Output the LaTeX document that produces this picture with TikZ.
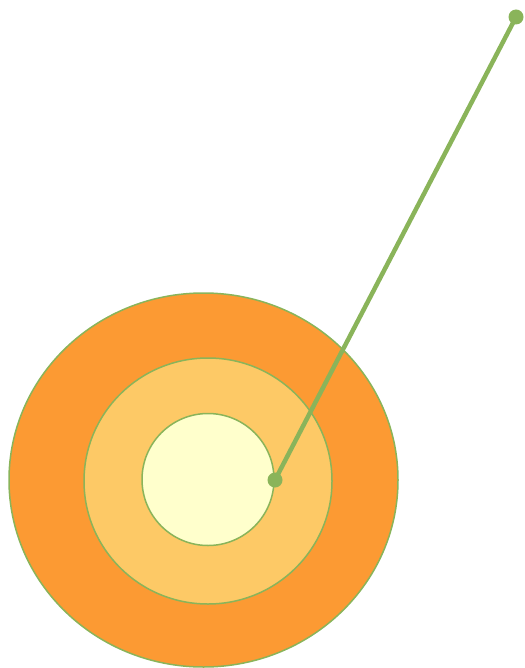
\documentclass[tikz,border=0pt]{standalone}
\begin{document}
\begin{tikzpicture}[x=1pt,y=-1pt,
  ring/.style={draw=ringgreen, line width=1.5pt},
  dotnode/.style={circle, fill=ringgreen, inner sep=0pt, minimum size=15pt}]
\definecolor{ringgreen}{HTML}{8AB45A}
\definecolor{outerc}{HTML}{FC9A33}
\definecolor{midc}{HTML}{FDC966}
\definecolor{innerc}{HTML}{FFFFCC}
\useasboundingbox (0,0) rectangle (524,668);
\draw[ring, fill=outerc] (203.5,480) ellipse [x radius=194.5, y radius=187];
\draw[ring, fill=midc] (208,481) ellipse [x radius=124, y radius=123];
\draw[ring, fill=innerc] (208,479.5) circle [radius=66];
\node[dotnode] (a) at (275,480) {};
\node[dotnode] (b) at (516,17) {};
\draw[ringgreen, line width=4.5pt] (a.center) -- (b.center);
\end{tikzpicture}
\end{document}
